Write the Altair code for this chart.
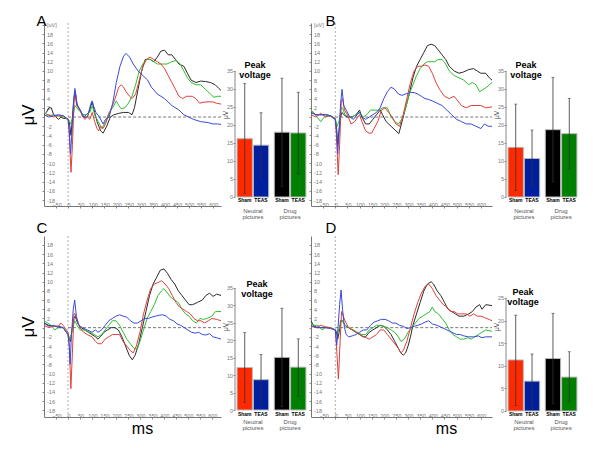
import altair as alt
import pandas as pd

FONT = "Liberation Sans"

# ---------------- waveform data (ms, microvolt) ----------------
# red = Sham / neutral, blue = TEAS / neutral, black = Sham / drug, green = TEAS / drug
A_RED = [(-100,0.3),(-80,0.5),(-60,0),(-40,0.3),(-20,0.2),(0,-0.5),(5,-4),(12,-12),(18,-6),(25,4),(30,5.5),(35,2.5),(42,2),(50,1.5),(60,0),(70,-0.5),(80,0),(90,-0.5),(100,1),(110,-1),(120,-2.5),(127,-3),(135,-2),(145,-2.5),(155,-1.5),(165,0),(180,2),(195,4),(210,6.5),(220,7),(230,6.5),(240,5.5),(255,4.5),(265,4),(280,5),(295,8),(310,11),(325,12.5),(340,13),(355,12.5),(370,12),(385,11.5),(400,10.5),(415,9),(430,7.5),(445,6),(460,4.5),(475,4),(490,4.5),(505,4.5),(515,4.5),(530,4),(545,3),(560,3.2),(580,3.3),(600,3.3),(615,3),(634,2.8)]
A_BLUE = [(-100,0.5),(-80,0),(-60,0.3),(-40,0.5),(-20,0.3),(0,-0.5),(5,-3),(10,-8),(15,-4),(22,3),(28,6.2),(35,3),(45,2),(55,1),(65,0),(75,0.5),(85,1),(95,3),(100,3.5),(105,2.5),(115,1),(130,0),(145,-1.5),(155,-0.5),(170,0),(185,3),(200,7.5),(215,11),(230,13.2),(240,13.8),(255,13),(270,11.5),(290,10),(310,9),(330,8),(345,6.5),(370,5),(400,4),(430,2.5),(460,1.5),(480,0.5),(500,0),(520,-0.5),(550,-1),(580,-1.2),(600,-1.5),(620,-1.5),(634,-1.6)]
A_BLACK = [(-100,0.5),(-90,1),(-80,2),(-70,2),(-60,0.5),(-50,0),(-40,-0.5),(-30,0),(-20,-0.3),(-10,-0.3),(0,-0.5),(5,-1),(12,-4),(18,0),(25,4.5),(30,5.5),(38,2.5),(50,1.5),(65,0),(80,0),(95,2.5),(100,3.3),(110,1),(120,-1),(135,-3),(145,-3.5),(160,-2),(175,0),(190,0.5),(210,0.8),(230,1),(250,1),(265,0.5),(275,2),(290,6),(305,10),(320,12.5),(340,12.5),(355,12),(370,13),(385,14.3),(400,14.5),(415,13.5),(430,13.5),(445,12.5),(460,11.5),(480,11),(495,9.5),(510,8),(530,7.5),(550,7.8),(570,7.7),(590,7.5),(610,7),(625,6.2),(634,5.8)]
A_GREEN = [(-100,1),(-80,0.3),(-60,0.5),(-40,0.2),(-20,0),(0,-0.5),(5,-1),(10,-1.5),(20,0),(28,2.5),(35,2),(45,1.5),(60,0.5),(75,0.5),(90,1),(100,2.5),(110,0.5),(125,-1),(140,-2.5),(155,-1),(170,1),(185,2),(200,3.5),(210,2.5),(220,1.8),(235,2),(250,3),(265,4.5),(280,7),(295,10),(310,11.5),(325,12.5),(340,12.5),(355,12),(370,11.5),(390,11.5),(410,11.5),(430,12),(450,12.3),(465,11.5),(480,10),(495,8.5),(510,7.5),(530,7),(550,7),(570,6),(590,5),(605,4.3),(620,4.5),(634,4.5)]

B_RED = [(-100,0.5),(-80,0),(-60,0.8),(-40,0),(-20,0.3),(0,-0.5),(5,-4),(12,-12.5),(18,-6),(25,3.5),(30,4),(38,1.5),(50,0.5),(65,-1.5),(80,-1),(100,0.5),(110,-1),(125,-3),(140,-3.5),(150,-3.5),(160,-2.5),(175,-1),(190,1.5),(205,2),(220,1),(235,0),(250,-1.5),(265,-2),(280,0.5),(295,4),(310,7.5),(325,10),(340,11),(355,11),(370,11.3),(385,11),(400,9.5),(415,7.5),(430,6),(450,4.5),(470,4),(490,4.5),(505,3.5),(520,2.5),(540,2),(560,2.5),(580,2.5),(600,2.5),(620,2),(646,2.2)]
B_BLUE = [(-100,1),(-80,0.5),(-60,0.5),(-40,0.5),(-20,0.3),(0,-0.5),(5,-3),(10,-8),(15,-4),(22,3),(28,6),(35,2.5),(45,1.5),(60,0),(75,-0.5),(90,0.5),(100,1),(110,0),(125,-0.5),(140,0),(155,0.5),(170,1),(185,2),(200,4),(215,5.5),(230,6.5),(245,6),(260,5),(275,4.7),(290,5),(310,5.3),(325,5.3),(340,5),(355,4.5),(370,4),(385,3.8),(400,3.5),(420,3),(440,2.5),(460,1.5),(480,0.5),(500,-0.5),(520,-1),(540,-1.5),(560,-1.5),(580,-2),(600,-2.5),(615,-1.5),(630,-2),(646,-2)]
B_BLACK = [(-100,1),(-80,0.5),(-60,0.5),(-40,0.5),(-20,0.3),(0,-0.3),(5,-2),(10,-6),(15,-3),(22,0),(28,1),(35,0.5),(50,0),(70,0),(85,0.5),(100,1.5),(110,0),(125,-1.5),(140,-1.5),(155,-0.5),(170,0.5),(185,1.5),(195,0.5),(210,-1),(230,-2),(250,-3),(262,-3.6),(275,-1),(290,2),(305,5),(320,8.5),(335,11),(350,12.5),(365,14),(380,15.5),(395,15.8),(410,15.5),(425,14.5),(440,13.5),(455,12.5),(470,11),(490,10),(510,9.5),(530,9.8),(550,10.3),(570,10.5),(585,10),(600,9.5),(620,9.5),(635,8.5),(646,8)]
B_GREEN = [(-100,1.5),(-90,1),(-75,0),(-60,-1),(-45,0),(-30,0.3),(-15,0),(0,-0.5),(8,-2),(15,-1),(25,2),(30,2),(40,0.5),(55,0),(70,0),(85,0.5),(100,1),(115,0),(130,0.5),(145,1.5),(160,1.5),(180,1.5),(195,2),(215,2),(230,0),(245,-1),(260,-1.5),(275,-0.5),(290,2),(305,5),(320,7),(335,9),(350,10.5),(365,11.5),(380,12),(395,12),(410,12),(425,12.5),(440,12.5),(455,11.5),(470,10),(490,9),(510,8.5),(530,8),(550,7),(565,7.5),(580,7),(595,5.5),(610,6),(625,6.5),(646,7.5)]

C_RED = [(-100,0.5),(-80,0),(-60,0.3),(-40,0.3),(-30,1),(-20,0.5),(0,-1),(5,-3),(12,-13.3),(18,-6),(25,3),(30,3),(38,1.5),(50,0),(65,-1),(80,-1.5),(100,-2),(115,-3),(125,-3.5),(140,-3.5),(155,-2.5),(170,-2),(185,-1.5),(200,-1.5),(215,-1.5),(230,-3),(245,-4),(260,-5),(272,-5.5),(285,-4),(300,-1),(315,3),(330,6),(345,8.5),(360,9.5),(375,9.8),(390,10.2),(405,9.5),(420,8.5),(435,7),(450,5.5),(465,4.5),(480,4),(495,3.5),(510,3),(525,2),(540,1.5),(555,1.5),(570,1),(585,1.5),(600,2),(620,1.8),(638,1.5)]
C_BLUE = [(-100,1),(-80,0.3),(-60,0.5),(-40,0),(-20,0),(0,-1.5),(5,-4),(9,-8),(14,-2),(22,4),(28,6),(35,2.5),(45,0.5),(60,0),(80,-0.5),(100,-1),(115,-0.5),(125,-1),(140,-0.5),(155,0.5),(170,1.5),(185,2),(200,2.5),(215,2.8),(230,2.5),(245,2.3),(260,1.5),(275,1),(290,1),(305,1.5),(320,2),(335,2),(350,2.3),(365,2.5),(380,2.7),(395,2.8),(410,2.5),(425,1.8),(440,1.5),(455,0.8),(470,0.5),(485,0),(500,-0.5),(515,-1),(530,-1.2),(545,-1),(560,-1.5),(575,-1.6),(590,-1.3),(605,-2),(620,-2.2),(638,-2.5)]
C_BLACK = [(-100,1),(-80,0.5),(-60,0.3),(-40,0.3),(-20,0),(0,-1.5),(5,-2.5),(10,-3),(18,0),(25,2),(30,2.5),(40,1),(55,0),(70,-0.5),(85,-1),(100,-1.5),(115,-2),(125,-2.5),(135,-2),(150,-1),(165,-0.5),(180,0),(195,0),(210,-0.5),(225,-2),(240,-4),(255,-6),(268,-7),(280,-6),(295,-3.5),(310,0),(325,3.5),(340,7),(355,9.5),(370,11),(385,12.5),(400,12.8),(415,11.8),(430,10.5),(445,9.5),(460,8),(475,7),(490,6),(505,5),(520,5),(540,5.5),(560,6),(575,7),(590,7.5),(605,6.8),(620,7.3),(638,7)]
C_GREEN = [(-100,1.5),(-85,1),(-70,0.5),(-55,-0.5),(-40,0),(-20,0),(0,-1.5),(10,-2.5),(20,0),(28,1.5),(38,0.5),(50,-0.5),(70,-0.5),(90,-1),(110,-1.5),(125,-2),(140,-1.5),(155,-0.5),(170,0.5),(185,1.5),(200,1.5),(215,0.5),(230,-1),(245,-2.5),(260,-3.5),(275,-4.5),(290,-4.5),(300,-3),(315,-0.5),(330,2),(345,3.5),(360,5),(375,7),(390,8),(400,8.5),(415,7.5),(430,6.5),(445,6),(460,5.5),(475,4),(490,3),(505,2.5),(520,1.5),(535,1),(550,2),(565,1.8),(580,2),(600,2.5),(615,3.5),(638,3.5)]

D_RED = [(-100,0.3),(-80,0),(-60,0.5),(-40,0.2),(-20,0),(0,-0.5),(5,-4),(13,-11.2),(20,-3),(26,3.5),(30,3),(40,1.5),(55,0),(70,-0.5),(85,-1),(100,-1.5),(120,-2),(140,-2.5),(155,-2),(170,-1.5),(185,-0.5),(200,-0.5),(215,-1.5),(230,-2.5),(245,-3.5),(260,-4.5),(270,-5.5),(280,-5),(295,-3),(310,0),(325,3),(340,5.5),(355,7.5),(370,9),(385,9.5),(400,8.5),(415,7),(430,6),(445,5),(460,4.5),(475,3.5),(490,3.5),(505,3),(520,3),(540,3),(555,2.5),(570,3),(585,2.5),(600,2.5),(615,2.2),(646,1.5)]
D_BLUE = [(-100,0.5),(-80,0),(-60,0),(-40,0),(-20,-0.2),(0,-0.5),(3,-2),(6,-3.8),(10,-1),(18,5),(24,8.2),(30,4),(38,0),(45,-1.5),(55,-2),(70,-1.8),(85,-1.5),(100,-1),(115,-0.5),(130,-0.5),(145,0.5),(160,1.2),(175,1.5),(190,1.8),(205,1.8),(220,1.5),(235,1),(250,1),(265,0.5),(280,0.3),(295,-0.2),(310,0),(325,0.3),(340,0.5),(355,0.8),(370,1.2),(385,1.5),(400,0.8),(420,0.5),(440,0),(460,-0.5),(480,-1),(500,-1.5),(515,-1.5),(530,-1.8),(550,-2),(570,-2),(590,-1.8),(605,-2.2),(620,-2),(646,-2)]
D_BLACK = [(-100,1.5),(-90,0.5),(-75,0),(-60,0),(-40,0),(-20,0),(0,-0.5),(5,-1),(10,-2.5),(16,-1),(22,1.5),(30,1.5),(40,0.5),(55,0),(70,-0.5),(85,-1),(100,-1.5),(115,-2),(125,-2),(140,-1),(155,-0.5),(170,0),(185,0.5),(200,0.3),(215,-0.5),(230,-1.5),(245,-3),(260,-4.5),(270,-5.5),(280,-6),(290,-5.5),(300,-4),(310,-2),(320,0.5),(335,3),(350,5.5),(365,8),(380,9.5),(395,10),(405,9.5),(420,8),(435,7),(450,5.5),(465,4),(480,3.5),(495,3),(510,2.5),(530,2.5),(550,3),(565,3.5),(580,4.5),(595,5),(605,4),(620,5),(646,4.8)]
D_GREEN = [(-100,1),(-85,0.5),(-70,0.5),(-55,-0.5),(-40,0),(-20,0),(0,-0.5),(10,-1),(18,0),(25,1.5),(30,1.5),(40,0.5),(55,0),(75,-0.5),(90,-1),(110,-1.5),(125,-1.5),(140,-0.5),(155,0),(170,0.5),(185,0.5),(200,0.3),(215,0),(230,-0.5),(245,-1),(260,-2),(270,-3),(285,-2.5),(300,-1),(315,0),(330,1),(345,2),(360,2.5),(375,3),(390,3.5),(400,4.5),(410,3.5),(425,3),(440,2),(455,1),(470,-0.5),(485,-1.5),(500,-2),(515,-2.5),(530,-2.5),(545,-2.2),(560,-2.5),(575,-2),(590,-1.5),(605,-1),(620,-0.5),(646,-0.8)]

# ---------------- peak voltage bars ----------------
GROUPS = ["Neutral pictures", "Neutral pictures", "Drug pictures", "Drug pictures"]
CONDS = ["Sham", "TEAS", "Sham", "TEAS"]
KEYS = ["red", "blue", "black", "green"]
A_MEAN, A_LO, A_HI = [16.2, 14.4, 18.0, 17.8], [1.0, 5.3, 3.0, 6.4], [31.5, 23.4, 33.0, 29.1]
B_MEAN, B_LO, B_HI = [13.8, 10.7, 18.7, 17.6], [1.8, 2.8, 4.2, 7.8], [25.8, 18.6, 33.2, 27.4]
C_MEAN, C_LO, C_HI = [12.2, 8.7, 15.1, 12.3], [2.2, 1.4, 1.0, 4.0], [22.2, 15.9, 29.2, 20.4]
D_MEAN, D_LO, D_HI = [11.3, 6.6, 11.6, 7.5], [1.2, 0.6, 1.6, 2.0], [21.2, 12.6, 21.6, 13.1]

# axis tick labels
X_TICKS = list(range(-50, 601, 50))
Y_TICKS = list(range(-18, 21, 2))

LINE_COLORS = {"black": "#2a2a2a", "green": "#2fbf2f", "red": "#e0403a", "blue": "#3a48e0"}
BAR_COLORS = {"red": "#ff2a00", "blue": "#001ea0", "black": "#000000", "green": "#008000"}
LINE_ORDER = ["black", "green", "red", "blue"]

WAVES = {
    "A": {"red": A_RED, "blue": A_BLUE, "black": A_BLACK, "green": A_GREEN},
    "B": {"red": B_RED, "blue": B_BLUE, "black": B_BLACK, "green": B_GREEN},
    "C": {"red": C_RED, "blue": C_BLUE, "black": C_BLACK, "green": C_GREEN},
    "D": {"red": D_RED, "blue": D_BLUE, "black": D_BLACK, "green": D_GREEN},
}
BARS = {"A": (A_MEAN, A_LO, A_HI), "B": (B_MEAN, B_LO, B_HI),
        "C": (C_MEAN, C_LO, C_HI), "D": (D_MEAN, D_LO, D_HI)}

SMALL = dict(labelFontSize=5.5, labelColor="#777", labelFont=FONT)


def wave_chart(panel, width, height, xmax, ydom, ytitle, xtitle, title_x=0, title_off=-6):
    rows = []
    for key in LINE_ORDER:
        for t, v in WAVES[panel][key]:
            rows.append({"ms": t, "uv": v, "lcol": LINE_COLORS[key]})
    df = pd.DataFrame(rows)
    xscale = alt.Scale(domain=[-100, xmax], nice=False, zero=False)
    yscale = alt.Scale(domain=ydom, nice=False, zero=False)
    xaxis = alt.Axis(values=X_TICKS, tickSize=2, tickColor="#888", domainColor="#777",
                     labels=False, grid=False,
                     title=xtitle if xtitle else None, titleFontSize=16, titleFontWeight="normal",
                     titleFont=FONT, titleColor="#000", titleX=title_x, titleY=11,
                     titleBaseline="middle", titleAlign="center")
    yaxis = alt.Axis(values=Y_TICKS,
                     labelExpr="datum.value == 20 ? '[uV]' : (datum.value == 0 ? '' : '' + datum.value)",
                     labelAlign="left", labelPadding=-4.5, labelOverlap=False,
                     tickSize=2, tickColor="#888", domainColor="#777",
                     grid=False, title=ytitle if ytitle else None, titleFontSize=17,
                     titleFontWeight="normal", titleFont=FONT, titleColor="#000", titlePadding=4,
                     **SMALL)
    zero = pd.DataFrame({"z": [0]})
    vline = alt.Chart(zero).mark_rule(color="#999", strokeDash=[2, 2], strokeWidth=0.8).encode(
        x=alt.X("z:Q", scale=xscale, axis=xaxis))
    hline = alt.Chart(zero).mark_rule(color="#555", strokeDash=[3, 2], strokeWidth=0.8).encode(
        x=alt.datum(0, axis=xaxis), x2=alt.datum(xmax), y=alt.datum(0, scale=yscale, axis=yaxis))
    ticklab = alt.Chart(pd.DataFrame({"t": X_TICKS})).mark_text(
        fontSize=5.5, color="#777", font=FONT, baseline="bottom", dy=2, dx=1).encode(
        x=alt.X("t:Q", axis=xaxis), y=alt.datum(ydom[0], axis=yaxis), text="t:Q")
    lines = alt.Chart(df).mark_line(strokeWidth=1, clip=True).encode(
        x=alt.X("ms:Q", scale=xscale, axis=xaxis),
        y=alt.Y("uv:Q", scale=yscale, axis=yaxis),
        color=alt.Color("lcol:N", scale=None),
        order=alt.Order("ms:Q"),
    )
    return alt.layer(vline, hline, ticklab, lines).properties(
        width=width, height=height,
        title=alt.TitleParams(panel, anchor="start", fontSize=15, fontWeight="normal",
                              font=FONT, dx=17, offset=title_off, color="#000"))


def bar_chart(panel, width, height, ymax, ydom, title_x, title_y):
    mean, lo, hi = BARS[panel]
    df = pd.DataFrame({"group": GROUPS, "cond": CONDS, "bcol": [BAR_COLORS[k] for k in KEYS],
                       "mean": mean, "lo": lo, "hi": hi})
    xenc = alt.X("group:N", sort=["Neutral pictures", "Drug pictures"],
                 scale=alt.Scale(paddingInner=0.15, paddingOuter=0.055),
                 axis=alt.Axis(title=None, labelExpr="split(datum.label, ' ')", labelAngle=0,
                               labelFontSize=6, labelColor="#555", labelFont=FONT,
                               domain=False, ticks=False, labelPadding=1, labelLineHeight=6.5))
    xoff = alt.XOffset("cond:N", sort=["Sham", "TEAS"], scale=alt.Scale(paddingInner=0.06))
    yscale = alt.Scale(domain=ydom, nice=False, zero=False)
    yaxis = alt.Axis(values=list(range(0, ymax + 1, 5)), tickSize=2, tickColor="#888",
                     domain=False, grid=False, labelPadding=0.5, labelOverlap=False,
                     title="μV", titleFontSize=6.5, titleFontWeight="normal", titleColor="#444",
                     titlePadding=-2, titleFont=FONT, **SMALL)
    base = alt.Chart(df).encode(x=xenc, xOffset=xoff)
    axis_line = alt.Chart(pd.DataFrame({"z": [0]})).mark_rule(color="#888", strokeWidth=1).encode(
        x=alt.value(0), y=alt.datum(0, axis=yaxis), y2=alt.datum(ymax))
    bars = base.mark_bar(stroke="#bbbbbb", strokeWidth=1).encode(
        y=alt.Y("mean:Q", scale=yscale, axis=yaxis),
        y2=alt.datum(0),
        color=alt.Color("bcol:N", scale=None))
    err = base.mark_rule(color="#333", strokeWidth=0.8).encode(y=alt.Y("lo:Q", axis=yaxis), y2="hi:Q")
    cap_hi = base.mark_tick(color="#333", thickness=0.8, size=3).encode(y=alt.Y("hi:Q", axis=yaxis))
    cap_lo = base.mark_tick(color="#333", thickness=0.8, size=3).encode(y=alt.Y("lo:Q", axis=yaxis))
    labels = base.mark_text(fontSize=5, fontWeight="bold", baseline="top", dy=1.5,
                            font=FONT, color="#000").encode(y=alt.datum(0, axis=yaxis), text="cond:N")
    title = alt.Chart(pd.DataFrame({"z": [0]})).mark_text(
        text=["Peak", "voltage"], fontSize=9, fontWeight="bold", font=FONT, lineHeight=10,
        baseline="middle", align="center", color="#000", dy=-5).encode(
        x=alt.value(title_x), y=alt.datum(title_y, axis=yaxis))
    return alt.layer(bars, axis_line, err, cap_hi, cap_lo, labels, title).properties(
        width=width, height=height)


def hrow(items):
    return alt.hconcat(*items, spacing=0)


row1 = hrow([
    wave_chart("A", 177, 183, 634, [-19.3, 20.4], "μV", None),
    bar_chart("A", 73, 183, 35, [-2.5, 48.33], 20, 35.4),
    wave_chart("B", 181, 183, 646, [-19.3, 20.4], None, None),
    bar_chart("B", 73, 183, 35, [-2.5, 48.33], 20, 35.4),
])

row2 = hrow([
    wave_chart("C", 177, 181, 638, [-19.45, 19.95], "μV", "ms", title_x=98, title_off=0),
    bar_chart("C", 73, 181, 35, [-2.0, 49.9], 22, 34.7),
    wave_chart("D", 181, 181, 646, [-19.45, 19.95], None, "ms", title_x=135, title_off=0),
    bar_chart("D", 73, 181, 25, [-1.33, 38.7], 17, 25.2),
])

chart = alt.vconcat(row1, row2, spacing=0).properties(
    padding={"left": 11, "top": 5, "right": 0, "bottom": 0}
).configure(font=FONT).configure_axis(labelOverlap=False).configure_view(
    strokeWidth=0, stroke="transparent")

chart.save("out.html", embed_options={"renderer": "svg", "actions": False})
